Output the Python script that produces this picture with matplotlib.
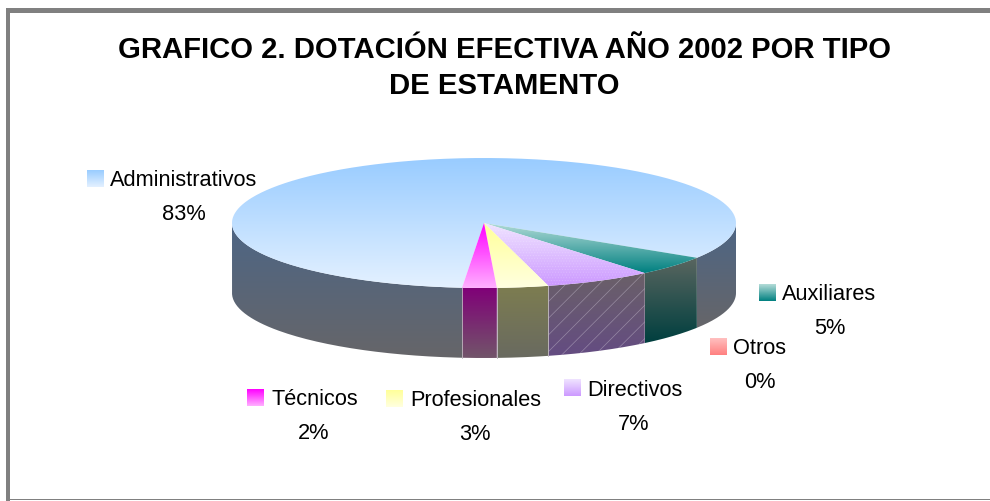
"""Grafico 2: dotacion efectiva 2002, 3D pie drawn by hand on a pixel canvas."""

import matplotlib as mpl
import numpy as np

mpl.use("Agg")

import matplotlib.pyplot as plt
from matplotlib.colors import LinearSegmentedColormap
from matplotlib.patches import PathPatch, Rectangle
from matplotlib.path import Path

plt.rcParams["font.family"] = ["Liberation Sans", "DejaVu Sans"]
plt.rcParams["hatch.linewidth"] = 0.5

TITLE = "GRAFICO 2. DOTACIÓN EFECTIVA AÑO 2002 POR TIPO\nDE ESTAMENTO"

# clockwise from the front of the pie
categories = ["Administrativos", "Otros", "Auxiliares", "Directivos", "Profesionales", "Técnicos"]
values = [82.6, 0.0, 5.0, 6.9, 3.3, 2.2]

# top gradient, side gradient (each: upper colour, lower colour)
TOP_COLORS = {
    "Administrativos": ("#99ccff", "#e4f1ff"),
    "Otros": ("#ffc0c0", "#ff8080"),
    "Auxiliares": ("#b4dcd8", "#008080"),
    "Directivos": ("#f0e4ff", "#cc99ff"),
    "Profesionales": ("#ffff99", "#ffffe0"),
    "Técnicos": ("#ff00ff", "#ffb0ff"),
}
SIDE_COLORS = {
    "Administrativos": ("#4d6585", "#666669"),
    "Otros": ("#806060", "#804040"),
    "Auxiliares": ("#5a6660", "#003f3f"),
    "Directivos": ("#6a6068", "#644c82"),
    "Profesionales": ("#7d7d50", "#696a60"),
    "Técnicos": ("#800078", "#72556a"),
}

# key left, key top, text left, name centre y, percent centre x, percent centre y
LABEL_LAYOUT = {
    "Administrativos": (87, 171, 110, 181, 184, 215),
    "Otros": (710, 339, 733, 349, 760, 383),
    "Auxiliares": (759, 285, 782, 295, 830, 329),
    "Directivos": (564, 380, 587, 391, 634, 425),
    "Profesionales": (386, 391, 410, 401, 475, 435),
    "Técnicos": (247, 390, 271, 400, 314, 434),
}

CX, CY, RX, RY, DEPTH = 484, 224, 252, 65, 70
START_DEG = 95
KEY_SIZE = 17
LABEL_SIZE = 15.7
SEAMED = ("Profesionales", "Técnicos")


def rim(t):
    """Screen position of the top rim at angle t (degrees, clockwise on screen)."""
    r = np.radians(t)
    return CX + RX * np.cos(r), CY + RY * np.sin(r)


def gradient_fill(ax, verts, colors, zorder=2):
    """Fill a closed polygon with a vertical two-colour gradient, clipped to it."""
    verts = np.asarray(verts)
    x0, y0 = verts.min(axis=0)
    x1, y1 = verts.max(axis=0)
    cmap = LinearSegmentedColormap.from_list("g", colors)
    img = ax.imshow(
        np.linspace(0, 1, 128).reshape(-1, 1),
        cmap=cmap,
        extent=(x0, x1, y1, y0),
        origin="upper",
        aspect="auto",
        interpolation="bilinear",
        zorder=zorder,
    )
    patch = PathPatch(Path(np.vstack([verts, verts[:1]])), fc="none", ec="none", transform=ax.transData)
    ax.add_patch(patch)
    img.set_clip_path(patch)
    return patch


def side_polys(a, b):
    """Outer wall polygons of the arc a..b, only the part facing the viewer."""
    polys = []
    for lo, hi in ((a, b), (a - 360, b - 360)):
        s, e = max(lo, 0), min(hi, 180)
        if e > s:
            ts = np.linspace(s, e, 80)
            upper = np.array([rim(t) for t in ts])
            lower = upper[::-1] + [0, DEPTH]
            polys.append(np.vstack([upper, lower]))
    return polys


fig = plt.figure(figsize=(9.9, 5.02), dpi=100, facecolor="white")
ax = fig.add_axes([0, 0, 1, 1])
ax.axis("off")

# chart frame
FRAME = "#808080"
ax.add_patch(Rectangle((6, 9), 984, 5, fc=FRAME, ec="none"))
ax.add_patch(Rectangle((6, 9), 4, 493, fc=FRAME, ec="none"))
ax.add_patch(Rectangle((6, 499.5), 984, 1.5, fc=FRAME, ec="none"))

ax.text(504, 68, TITLE, ha="center", va="center", fontsize=21.1, fontweight="bold", linespacing=1.34, color="black")

sweeps = np.array(values) / sum(values) * 360
angle = START_DEG
for name, sweep in zip(categories, sweeps):
    a, b = angle, angle + sweep
    angle = b
    if sweep == 0:
        continue
    ts = np.linspace(a, b, max(int(sweep) * 2, 8))
    top = np.vstack([[(CX, CY)], [rim(t) for t in ts]])
    gradient_fill(ax, top, TOP_COLORS[name], zorder=3)
    if name == "Directivos":
        ax.add_patch(PathPatch(Path(np.vstack([top, top[:1]])), fc="none", ec="#ffffff28", hatch="......", lw=0, zorder=3.2))
    for poly in side_polys(a, b):
        gradient_fill(ax, poly, SIDE_COLORS[name], zorder=2)
        if name == "Directivos":
            ax.add_patch(PathPatch(Path(np.vstack([poly, poly[:1]])), fc="none", ec="#c8c0d080", hatch="//", lw=0, zorder=2.2))
    # pale seams between the front walls
    if name in SEAMED:
        for t in (a, b):
            x, y = rim(t)
            ax.plot([x, x], [y, y + DEPTH], color="#c0b8c0", lw=0.6, zorder=2.5)

# labels with gradient keys
for name, value in zip(categories, values):
    kx, ky, tx, ty, px, py = LABEL_LAYOUT[name]
    gradient_fill(ax, [(kx, ky), (kx + KEY_SIZE, ky), (kx + KEY_SIZE, ky + KEY_SIZE), (kx, ky + KEY_SIZE)], TOP_COLORS[name], zorder=4)
    ax.text(tx, ty, name, ha="left", va="center", fontsize=LABEL_SIZE, color="black", zorder=5)
    ax.text(px, py, f"{round(value)}%", ha="center", va="center", fontsize=LABEL_SIZE, color="black", zorder=5)

ax.set_xlim(0, 990)
ax.set_ylim(502, 0)

fig.savefig("out.png", dpi=100)
